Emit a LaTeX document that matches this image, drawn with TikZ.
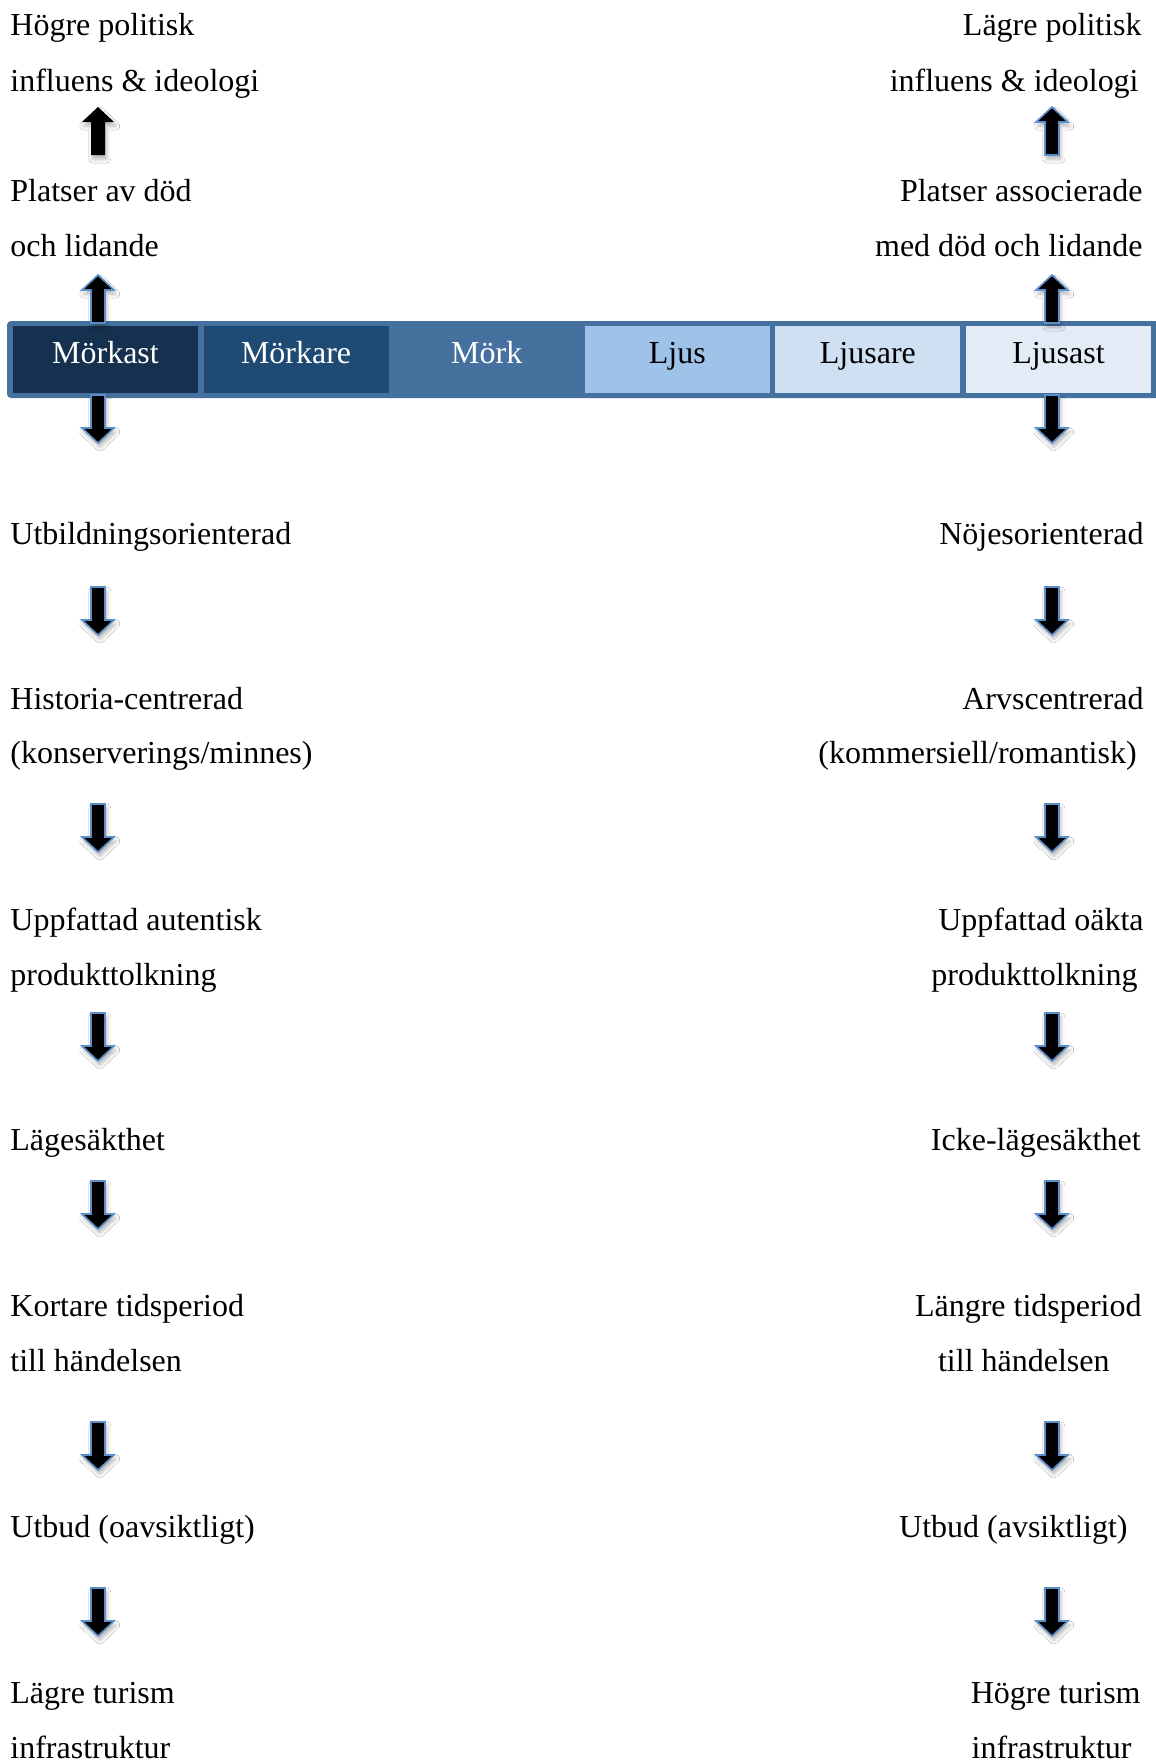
\documentclass[tikz,border=0pt]{standalone}
\usepackage{fontspec}
\setmainfont{Liberation Serif}
\usetikzlibrary{shadows.blur}

\definecolor{framebl}{HTML}{45719F}
\definecolor{cellA}{HTML}{16304F}
\definecolor{cellB}{HTML}{1F4A74}
\definecolor{cellC}{HTML}{46719F}
\definecolor{cellD}{HTML}{9FC3E8}
\definecolor{cellE}{HTML}{CEE0F2}
\definecolor{cellF}{HTML}{E3EBF6}
\definecolor{arrowedge}{HTML}{5B8FCB}

\tikzset{
  lbl/.style={font=\fontsize{16}{19}\selectfont, inner sep=0pt, text=black},
  cell/.style={font=\fontsize{16}{19}\selectfont, inner sep=0pt, draw=none,
    minimum width=92.5pt, minimum height=33.5pt, text height=11pt, text depth=7.5pt},
  outl/.style={draw=arrowedge, line width=0.8pt},
  plain/.style={draw=none},
  arrowbody/.style={fill=black, line join=miter,
    blur shadow={shadow xshift=0.9pt, shadow yshift=-2pt, shadow blur radius=2pt, shadow opacity=30}},
  % block arrow pointing down, origin at the top of the shaft
  pics/arrdown/.style={code={
    \path[arrowbody,#1] (-7,0) -- (7,0) -- (7,33) -- (16,33) -- (0,48)
      -- (-16,33) -- (-7,33) -- cycle;
  }},
  % block arrow pointing up, origin at the tip
  pics/arrup/.style={code={
    \path[arrowbody,#1] (0,0) -- (16,15) -- (7,15) -- (7,48) -- (-7,48)
      -- (-7,15) -- (-16,15) -- cycle;
  }},
}

\begin{document}
\begin{tikzpicture}[x=0.5pt, y=-0.5pt]
\useasboundingbox (0,0) rectangle (1156,1762);
\fill[white] (0,0) rectangle (1156,1762);

% scale bar
\fill[framebl, rounded corners=2pt] (7,321) rectangle (1164,398);
\node[cell, fill=cellA, text=white] (c1) at (105.5,359.5) {Mörkast};
\node[cell, fill=cellB, text=white] (c2) at (296.1,359.5) {Mörkare};
\node[cell, fill=cellC, text=white] (c3) at (486.7,359.5) {Mörk};
\node[cell, fill=cellD, text=black] (c4) at (677.3,359.5) {Ljus};
\node[cell, fill=cellE, text=black] (c5) at (867.9,359.5) {Ljusare};
\node[cell, fill=cellF, text=black] (c6) at (1058.5,359.5) {Ljusast};

% left column
\node[lbl, anchor=base west] (l1) at (10,35) {Högre politisk};
\node[lbl, anchor=base west] (l2) at (10,91) {influens \& ideologi};
\node[lbl, anchor=base west] (l3) at (10,201) {Platser av död};
\node[lbl, anchor=base west] (l4) at (10,256) {och lidande};
\node[lbl, anchor=base west] (l5) at (10,544) {Utbildningsorienterad};
\node[lbl, anchor=base west] (l6) at (10,709) {Historia-centrerad};
\node[lbl, anchor=base west] (l7) at (10,763) {(konserverings/minnes)};
\node[lbl, anchor=base west] (l8) at (10,930) {Uppfattad autentisk};
\node[lbl, anchor=base west] (l9) at (10,985) {produkttolkning};
\node[lbl, anchor=base west] (l10) at (10,1150) {Lägesäkthet};
\node[lbl, anchor=base west] (l11) at (10,1316) {Kortare tidsperiod};
\node[lbl, anchor=base west] (l12) at (10,1371) {till händelsen};
\node[lbl, anchor=base west] (l13) at (10,1537) {Utbud (oavsiktligt)};
\node[lbl, anchor=base west] (l14) at (10,1703) {Lägre turism};
\node[lbl, anchor=base west] (l15) at (10,1758) {infrastruktur};

% right column
\node[lbl, anchor=base east] (r1) at (1142,35) {Lägre politisk};
\node[lbl, anchor=base east] (r2) at (1139,91) {influens \& ideologi};
\node[lbl, anchor=base east] (r3) at (1143,201) {Platser associerade};
\node[lbl, anchor=base east] (r4) at (1143,256) {med död och lidande};
\node[lbl, anchor=base east] (r5) at (1144,544) {Nöjesorienterad};
\node[lbl, anchor=base east] (r6) at (1144,709) {Arvscentrerad};
\node[lbl, anchor=base east] (r7) at (1137,763) {(kommersiell/romantisk)};
\node[lbl, anchor=base east] (r8) at (1144,930) {Uppfattad oäkta};
\node[lbl, anchor=base east] (r9) at (1138,985) {produkttolkning};
\node[lbl, anchor=base east] (r10) at (1141,1150) {Icke-lägesäkthet};
\node[lbl, anchor=base east] (r11) at (1142,1316) {Längre tidsperiod};
\node[lbl, anchor=base east] (r12) at (1110,1371) {till händelsen};
\node[lbl, anchor=base east] (r13) at (1128,1537) {Utbud (avsiktligt)};
\node[lbl, anchor=base east] (r14) at (1141,1703) {Högre turism};
\node[lbl, anchor=base east] (r15) at (1132,1758) {infrastruktur};

% arrows, left column
\pic (la1) at (98,107) {arrup=plain};
\pic (la2) at (98,275) {arrup=outl};
\pic (la3) at (98,395) {arrdown=outl};
\pic (la4) at (98,587) {arrdown=outl};
\pic (la5) at (98,804) {arrdown=outl};
\pic (la6) at (98,1013) {arrdown=outl};
\pic (la7) at (98,1181) {arrdown=outl};
\pic (la8) at (98,1422) {arrdown=outl};
\pic (la9) at (98,1588) {arrdown=outl};

% arrows, right column
\pic (ra1) at (1052,107) {arrup=outl};
\pic (ra2) at (1052,275) {arrup=outl};
\pic (ra3) at (1052,395) {arrdown=outl};
\pic (ra4) at (1052,587) {arrdown=outl};
\pic (ra5) at (1052,804) {arrdown=outl};
\pic (ra6) at (1052,1013) {arrdown=outl};
\pic (ra7) at (1052,1181) {arrdown=outl};
\pic (ra8) at (1052,1422) {arrdown=outl};
\pic (ra9) at (1052,1588) {arrdown=outl};
\end{tikzpicture}
\end{document}
